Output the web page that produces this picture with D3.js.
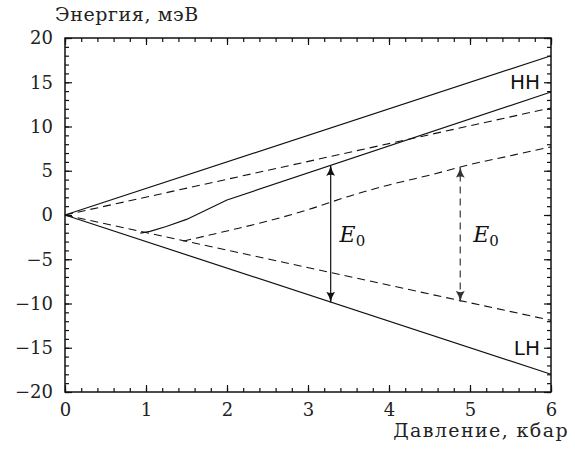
<!DOCTYPE html>
<html>
<head>
<meta charset="utf-8">
<script src="https://cdn.jsdelivr.net/npm/d3@7"></script>
</head>
<body style="margin:0;background:#fff">
<svg id="chart" width="575" height="450"></svg>
<script>
// ---- data ----
const xTicks = [0, 1, 2, 3, 4, 5, 6];
const yTicks = [-20, -15, -10, -5, 0, 5, 10, 15, 20];

// straight bands (solid)
const hhLine = [[0, 0], [6, 18]];
const lhLine = [[0, 0], [6, -18]];
// straight bands (dashed)
const upperDash = [[0, 0], [6, 12.1]];
const lowerDash = [[0, 0], [6, -11.9]];
// curved solid branch
const solidCurve = [[0.93, -2.05], [1.05, -1.85], [1.25, -1.3], [1.5, -0.5], [2.0, 1.7], [6, 13.9]];
// curved dashed branch
const dashCurve = [[1.46, -2.95], [2.0, -1.8], [2.5, -0.7], [3.0, 0.6], [3.5, 2.1],
                   [4.0, 3.4], [4.5, 4.5], [5.0, 5.7], [5.5, 6.7], [6, 7.7]];

// E0 arrows
const arrowX = [3.28, 4.88];
const arrowTop = [5.6, 5.4];
const arrowBottom = [-9.85, -9.76];
const arrowDashed = [false, true];
const labelX = [3.39, 5.04];
const labelY = [-3.0, -3.0];

// ---- layout ----
const W = 575, H = 450;
const margin = {left: 65, right: 24, top: 38, bottom: 58};
const serif = "DejaVu Serif";
const sans = "DejaVu Sans";

const svg = d3.select("#chart");

const x = d3.scaleLinear().domain([0, 6]).range([margin.left, W - margin.right]);
const y = d3.scaleLinear().domain([-20, 20]).range([H - margin.bottom, margin.top]);

const minorX = d3.range(0, 6.001, 0.2);
const minorY = d3.range(-20, 20.001, 1);
const fmt = d => d < 0 ? "\u2212" + Math.abs(d) : "" + d;

function styleLabels(g) {
    g.select(".domain").remove();
    g.attr("font-family", serif).attr("font-size", 18);
    g.selectAll("text").attr("fill", "#222");
}

// bottom axis
svg.append("g")
    .attr("transform", "translate(0," + y(-20) + ")")
    .call(d3.axisBottom(x).tickValues(minorX).tickSize(-4).tickFormat(""))
    .call(g => g.select(".domain").remove());
svg.append("g")
    .attr("transform", "translate(0," + y(-20) + ")")
    .call(d3.axisBottom(x).tickValues(xTicks).tickSize(-7).tickPadding(10).tickFormat(fmt))
    .call(styleLabels)
    .call(g => g.selectAll("text").attr("dy", "0.8em"));

// top axis
svg.append("g")
    .attr("transform", "translate(0," + y(20) + ")")
    .call(d3.axisTop(x).tickValues(minorX).tickSize(-4).tickFormat(""))
    .call(g => g.select(".domain").remove());
svg.append("g")
    .attr("transform", "translate(0," + y(20) + ")")
    .call(d3.axisTop(x).tickValues(xTicks).tickSize(-7).tickFormat(""))
    .call(g => g.select(".domain").remove());

// left axis
svg.append("g")
    .attr("transform", "translate(" + x(0) + ",0)")
    .call(d3.axisLeft(y).tickValues(minorY).tickSize(-4).tickFormat(""))
    .call(g => g.select(".domain").remove());
svg.append("g")
    .attr("transform", "translate(" + x(0) + ",0)")
    .call(d3.axisLeft(y).tickValues(yTicks).tickSize(-7).tickPadding(12).tickFormat(fmt))
    .call(styleLabels);

// right axis
svg.append("g")
    .attr("transform", "translate(" + x(6) + ",0)")
    .call(d3.axisRight(y).tickValues(minorY).tickSize(-4).tickFormat(""))
    .call(g => g.select(".domain").remove());
svg.append("g")
    .attr("transform", "translate(" + x(6) + ",0)")
    .call(d3.axisRight(y).tickValues(yTicks).tickSize(-7).tickFormat(""))
    .call(g => g.select(".domain").remove());

svg.selectAll(".tick line").attr("stroke", "#111").attr("stroke-width", 1.2);

// frame
svg.append("rect")
    .attr("x", x(0)).attr("y", y(20))
    .attr("width", x(6) - x(0)).attr("height", y(-20) - y(20))
    .attr("fill", "none").attr("stroke", "#111").attr("stroke-width", 1.5);

// axis titles
svg.append("text")
    .attr("x", 55).attr("y", 21)
    .attr("font-family", serif).attr("font-size", 19).attr("letter-spacing", 0.6)
    .attr("fill", "#222")
    .text("Энергия, мэВ");
svg.append("text")
    .attr("x", 569).attr("y", 437).attr("text-anchor", "end")
    .attr("font-family", serif).attr("font-size", 19).attr("letter-spacing", 1.4)
    .attr("fill", "#222")
    .text("Давление, кбар");

// curves
const line = d3.line().x(d => x(d[0])).y(d => y(d[1]));
const curveLine = d3.line().x(d => x(d[0])).y(d => y(d[1])).curve(d3.curveMonotoneX);

[hhLine, lhLine].forEach(p => {
    svg.append("path").datum(p).attr("d", line)
        .attr("fill", "none").attr("stroke", "#111").attr("stroke-width", 1.2);
});
[upperDash, lowerDash].forEach(p => {
    svg.append("path").datum(p).attr("d", line)
        .attr("fill", "none").attr("stroke", "#111").attr("stroke-width", 1.1)
        .attr("stroke-dasharray", "8,5");
});
svg.append("path").datum(solidCurve).attr("d", line)
    .attr("fill", "none").attr("stroke", "#111").attr("stroke-width", 1.2)
    .attr("stroke-linejoin", "round");
svg.append("path").datum(dashCurve).attr("d", curveLine)
    .attr("fill", "none").attr("stroke", "#111").attr("stroke-width", 1.1)
    .attr("stroke-dasharray", "8,5");

// arrowheads
const defs = svg.append("defs");
["solid", "dash"].forEach(k => {
    defs.append("marker")
        .attr("id", "ah-" + k)
        .attr("viewBox", "0 0 11 9")
        .attr("refX", 10.5).attr("refY", 4.5)
        .attr("markerWidth", 11).attr("markerHeight", 9)
        .attr("markerUnits", "userSpaceOnUse")
        .attr("orient", "auto-start-reverse")
        .append("path")
        .attr("d", "M0,0 Q5,3.5 11,4.5 Q5,5.5 0,9 Q2.5,4.5 0,0 Z")
        .attr("fill", k === "solid" ? "#111" : "#333");
});

arrowX.forEach((ax, i) => {
    svg.append("line")
        .attr("x1", x(ax)).attr("x2", x(ax))
        .attr("y1", y(arrowBottom[i])).attr("y2", y(arrowTop[i]))
        .attr("stroke", arrowDashed[i] ? "#555" : "#111")
        .attr("stroke-width", arrowDashed[i] ? 1.4 : 1.2)
        .attr("stroke-dasharray", arrowDashed[i] ? "7,5" : null)
        .attr("marker-start", "url(#ah-" + (arrowDashed[i] ? "dash" : "solid") + ")")
        .attr("marker-end", "url(#ah-" + (arrowDashed[i] ? "dash" : "solid") + ")");

    const t = svg.append("text")
        .attr("x", x(labelX[i])).attr("y", y(labelY[i]))
        .attr("font-family", serif).attr("font-size", 22).attr("fill", "#111");
    t.append("tspan").attr("font-style", "italic").text("E");
    t.append("tspan").attr("font-size", 15).attr("dy", 4).text("0");
});

// band labels
[["HH", 15], ["LH", -15]].forEach(([s, v]) => {
    svg.append("text")
        .attr("x", x(6) - 11).attr("y", y(v)).attr("dy", "0.36em")
        .attr("text-anchor", "end")
        .attr("font-family", sans).attr("font-size", 20).attr("fill", "#111")
        .text(s);
});
</script>
</body>
</html>
